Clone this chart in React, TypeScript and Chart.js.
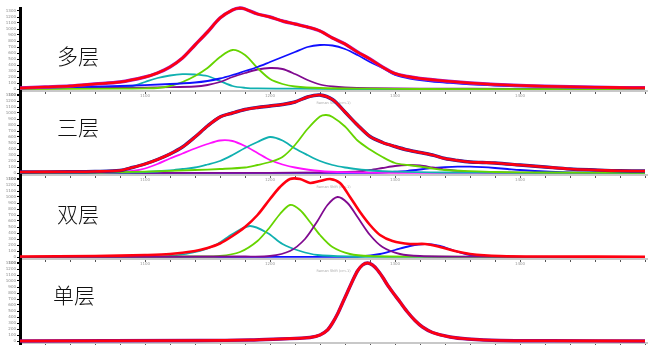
import React, { useEffect, useRef } from "react";
import { Chart, registerables } from "chart.js";

Chart.register(...registerables);

type Pt = [number, number];

// ---------- axis ticks / labels ----------
const xTicks = [1000, 1020, 1040, 1060, 1080, 1100, 1120, 1140, 1160, 1180, 1200, 1220, 1240, 1260, 1280, 1300, 1320, 1340, 1360, 1380, 1400, 1420, 1440, 1460, 1480, 1500];
const xLabelled = [1100, 1200, 1300, 1400];
const yTicks = [-6, 0, 6, 12, 18, 24, 30, 36, 42, 48, 54, 60, 66, 72, 78];
const layerNames = ["多层", "三层", "双层", "单层"];
const xAxisTitle = "Raman Shift (cm-1)";

// ---------- 多层 ----------
const multiRed: Pt[] = [[1000, 1], [1020, 2], [1040, 3], [1060, 5], [1080, 7], [1100, 12], [1110, 16], [1120, 22], [1130, 31], [1140, 44], [1150, 57], [1160, 71], [1170, 79], [1176, 81], [1180, 80], [1190, 75], [1200, 72], [1210, 68], [1220, 65], [1230, 62], [1240, 58], [1250, 51], [1260, 45], [1270, 37], [1280, 30], [1290, 22], [1300, 15.5], [1310, 12.5], [1320, 10.5], [1340, 8], [1360, 6], [1380, 4.5], [1400, 3.5], [1420, 2.8], [1440, 2.3], [1460, 1.8], [1480, 1.4], [1500, 1.2]];
const multiBlue: Pt[] = [[1000, 1], [1040, 2], [1080, 3], [1120, 5], [1140, 6.5], [1150, 8], [1160, 10.5], [1170, 14], [1180, 18], [1190, 22], [1200, 27], [1210, 32], [1220, 37], [1230, 42], [1240, 44], [1250, 43.5], [1260, 40], [1270, 34], [1280, 27], [1290, 21], [1300, 14], [1310, 11], [1320, 9], [1330, 7.5], [1340, 6.5], [1360, 4.7], [1380, 3.5], [1400, 2.6], [1440, 1.7], [1480, 1.1], [1500, 0.9]];
const multiGreen: Pt[] = [[1000, 0], [1080, 0.3], [1100, 0.7], [1110, 1], [1120, 3], [1130, 7], [1140, 13], [1150, 21], [1160, 32], [1170, 39], [1180, 34], [1190, 21], [1200, 10], [1210, 5], [1220, 2.5], [1240, 1], [1280, 0.3], [1320, 0], [1500, 0]];
const multiCyan: Pt[] = [[1000, 1], [1040, 1.2], [1080, 2], [1090, 3], [1100, 7], [1110, 11], [1120, 13.5], [1130, 14.8], [1140, 14.5], [1150, 13], [1160, 8], [1170, 3], [1180, 1.2], [1190, 0.6], [1220, 0.3], [1260, 0], [1500, 0]];
const multiPurple: Pt[] = [[1000, 0.8], [1080, 1.2], [1120, 1.8], [1140, 2.5], [1150, 4], [1160, 7], [1170, 12], [1180, 16], [1190, 19.5], [1200, 21], [1210, 20], [1220, 15], [1230, 9], [1240, 4.5], [1250, 2.5], [1260, 1.5], [1280, 0.8], [1320, 0.4], [1400, 0.2], [1500, 0]];

// ---------- 三层 ----------
const threeRed: Pt[] = [[1000, 1], [1040, 1.2], [1060, 1.5], [1080, 2.5], [1090, 5.5], [1100, 9], [1110, 13.5], [1120, 19], [1130, 26], [1140, 36], [1150, 47], [1160, 56], [1170, 60], [1180, 63.5], [1190, 65.5], [1200, 67], [1210, 68.5], [1220, 71], [1230, 76], [1240, 78], [1250, 73.5], [1260, 61], [1270, 48], [1280, 36.5], [1290, 30.5], [1300, 26.5], [1310, 23], [1320, 20.5], [1330, 18], [1340, 14.5], [1350, 12.5], [1360, 11], [1370, 10.5], [1380, 10], [1400, 8], [1420, 6], [1440, 4], [1460, 3], [1480, 2.2], [1500, 2]];
const threeMagenta: Pt[] = [[1000, 0.2], [1060, 0.5], [1080, 1], [1090, 2], [1100, 4.5], [1110, 9], [1120, 14.5], [1130, 19.5], [1140, 24.5], [1150, 29], [1160, 32.5], [1170, 32], [1180, 27], [1190, 20], [1200, 13], [1210, 8.5], [1220, 5.5], [1240, 2], [1260, 0.8], [1300, 0.2], [1500, 0]];
const threeCyan: Pt[] = [[1000, 0.2], [1080, 0.5], [1100, 1], [1120, 2.5], [1130, 4], [1140, 5.5], [1150, 8.5], [1160, 12], [1170, 18], [1180, 25], [1190, 31], [1200, 36], [1210, 32.5], [1220, 24.5], [1230, 18], [1240, 12], [1250, 8], [1260, 5.5], [1270, 3.8], [1280, 2.5], [1300, 1.3], [1340, 0.5], [1400, 0.2], [1500, 0]];
const threeGreen: Pt[] = [[1000, 0.2], [1060, 0.5], [1100, 1.3], [1140, 3], [1160, 4], [1180, 5.5], [1190, 8], [1200, 11], [1210, 16], [1220, 28], [1230, 44], [1240, 56.5], [1245, 58], [1250, 56], [1260, 46.5], [1270, 32.5], [1280, 23.5], [1290, 16], [1300, 10], [1310, 8], [1320, 6.5], [1330, 4.5], [1340, 3], [1360, 1.8], [1380, 1], [1420, 0.5], [1500, 0.2]];
const threePurple: Pt[] = [[1000, 0], [1200, 0.2], [1240, 0.5], [1260, 1], [1270, 1.5], [1280, 3], [1290, 5], [1300, 7], [1310, 8], [1320, 7.5], [1330, 5.5], [1340, 3.5], [1350, 2.2], [1360, 1.2], [1380, 0.5], [1420, 0.2], [1500, 0]];
const threeBlue: Pt[] = [[1000, 0], [1280, 0.2], [1290, 0.5], [1300, 1.3], [1310, 2.2], [1320, 3.5], [1330, 5], [1340, 5.8], [1350, 6.3], [1360, 6.3], [1370, 5.8], [1380, 5], [1390, 4], [1400, 3], [1420, 1.5], [1440, 0.7], [1460, 0.3], [1500, 0.1]];

// ---------- 双层 ----------
const doubleRed: Pt[] = [[1000, 0.5], [1060, 1], [1100, 2], [1120, 3], [1140, 6], [1150, 9], [1160, 13.5], [1170, 21], [1180, 30], [1190, 42], [1200, 58], [1208, 70], [1216, 78], [1224, 78], [1232, 74], [1240, 76], [1248, 78], [1256, 74], [1264, 60], [1272, 45], [1280, 32], [1288, 22], [1298, 16], [1312, 13], [1324, 13], [1336, 10], [1348, 6], [1360, 3], [1384, 1], [1420, 0.5], [1500, 0.3]];
const doubleCyan: Pt[] = [[1000, 0.2], [1100, 0.5], [1120, 1], [1144, 6], [1158, 13], [1170, 23], [1184, 31], [1198, 24], [1210, 13], [1224, 6], [1238, 2], [1264, 0.5], [1300, 0.2], [1500, 0]];
const doubleGreen: Pt[] = [[1000, 0.2], [1140, 0.5], [1160, 1], [1176, 5], [1190, 16], [1200, 30], [1208, 43], [1216, 52], [1224, 47], [1232, 35], [1240, 22], [1250, 10], [1264, 3], [1280, 1], [1320, 0.3], [1500, 0]];
const doublePurple: Pt[] = [[1000, 0.1], [1180, 0.5], [1200, 1], [1216, 6], [1228, 18], [1238, 36], [1246, 52], [1254, 60], [1262, 54], [1270, 40], [1280, 22], [1290, 10], [1304, 3], [1320, 1], [1360, 0.3], [1500, 0]];
const doubleBlue: Pt[] = [[1000, 0], [1260, 0.2], [1272, 0.5], [1288, 3], [1300, 7], [1312, 11], [1324, 13], [1336, 11], [1348, 6], [1360, 2], [1376, 0.5], [1400, 0.1], [1500, 0]];

// ---------- 单层 ----------
const singleRed: Pt[] = [[1000, 0], [1144, 0.5], [1184, 1], [1208, 2], [1224, 2.8], [1232, 3.5], [1240, 6], [1246, 11], [1250, 18], [1254, 27], [1258, 38], [1262, 49], [1266, 60], [1270, 70], [1274, 76], [1278, 78], [1282, 76], [1286, 71], [1290, 64], [1294, 56], [1298, 49], [1304, 39], [1310, 29], [1316, 20.5], [1322, 14], [1330, 8.5], [1344, 4], [1358, 2], [1384, 0.5], [1424, 0.2], [1500, 0]];

// ---------- styling ----------
const RED = "#ff0010";
const BLUE = "#1010ff";
const GREEN = "#66d400";
const CYAN = "#10b0b0";
const PURPLE = "#800a90";
const MAGENTA = "#ff10ff";

type Line = { data: Pt[]; color: string; width: number };
type PanelDef = {
  name: string;
  axisTop: number;
  baseline: number;
  axisBottom: number;
  labelLeft: number;
  labelTop: number;
  lines: Line[];
};

const panels: PanelDef[] = [
  {
    name: layerNames[0], axisTop: 8, baseline: 89, axisBottom: 97, labelLeft: 57, labelTop: 45,
    lines: [
      { data: multiRed, color: RED, width: 2.6 },
      { data: multiRed, color: "#a020d0", width: 3.4 },
      { data: multiBlue, color: BLUE, width: 1.8 },
      { data: multiGreen, color: GREEN, width: 1.8 },
      { data: multiPurple, color: PURPLE, width: 1.8 },
      { data: multiCyan, color: CYAN, width: 1.8 },
    ],
  },
  {
    name: layerNames[1], axisTop: 94, baseline: 173, axisBottom: 181, labelLeft: 57, labelTop: 116,
    lines: [
      { data: threeRed, color: RED, width: 2.6 },
      { data: threeRed, color: "#2020a0", width: 3.4 },
      { data: threeGreen, color: GREEN, width: 1.8 },
      { data: threeCyan, color: CYAN, width: 1.8 },
      { data: threeMagenta, color: MAGENTA, width: 1.8 },
      { data: threePurple, color: PURPLE, width: 1.8 },
      { data: threeBlue, color: BLUE, width: 1.8 },
    ],
  },
  {
    name: layerNames[2], axisTop: 178, baseline: 257, axisBottom: 265, labelLeft: 57, labelTop: 203,
    lines: [
      { data: doubleRed, color: RED, width: 2.6 },
      { data: doublePurple, color: PURPLE, width: 1.8 },
      { data: doubleGreen, color: GREEN, width: 1.8 },
      { data: doubleCyan, color: CYAN, width: 1.8 },
      { data: doubleBlue, color: BLUE, width: 1.8 },
    ],
  },
  {
    name: layerNames[3], axisTop: 262, baseline: 341, axisBottom: 349, labelLeft: 53, labelTop: 284,
    lines: [
      { data: singleRed, color: RED, width: 2.6 },
      { data: singleRed, color: PURPLE, width: 3.4 },
    ],
  },
];

const WIDTH = 656;
const PLOT_RIGHT = 647;

function Panel({ p }: { p: PanelDef }) {
  const ref = useRef<HTMLCanvasElement>(null);
  const canvasTop = p.axisTop - 4;
  const canvasHeight = p.baseline + 20 - canvasTop;

  useEffect(() => {
    const canvas = ref.current;
    if (!canvas) return;
    const chart = new Chart(canvas, {
      type: "line",
      data: {
        datasets: p.lines.map((l) => ({
          data: l.data.map(([x, y]) => ({ x, y })),
          borderColor: l.color,
          borderWidth: l.width,
          pointRadius: 0,
          fill: false,
          tension: 0.3,
          clip: 6,
        })),
      },
      options: {
        responsive: false,
        animation: false,
        events: [],
        devicePixelRatio: 1,
        layout: {
          padding: {
            top: 4,
            left: 0,
            right: WIDTH - PLOT_RIGHT,
            bottom: canvasHeight - (p.axisBottom - canvasTop),
          },
        },
        plugins: { legend: { display: false }, tooltip: { enabled: false } },
        scales: {
          x: {
            type: "linear",
            min: 1000,
            max: 1501.6,
            position: { y: -2 } as any,
            border: { display: true, color: "#c8c8c8", width: 2 },
            grid: { display: true, drawOnChartArea: false, drawTicks: true, tickLength: 2, color: "#555", lineWidth: 1 },
            ticks: {
              autoSkip: false,
              maxRotation: 0,
              padding: 1,
              font: { size: 4, family: "DejaVu Sans" },
              color: "#999",
              callback: (v: any) => (xLabelled.includes(Number(v)) ? String(v) : ""),
            },
            afterBuildTicks: (s: any) => {
              s.ticks = xTicks.map((value) => ({ value }));
            },
            afterFit: (s: any) => {
              s.paddingLeft = 0;
              s.paddingRight = 0;
              s.paddingTop = 0;
              s.paddingBottom = 0;
            },
            title: {
              display: true,
              text: xAxisTitle,
              color: "#aaa",
              font: { size: 3.5, family: "DejaVu Sans" },
              padding: { top: 1, bottom: 0 },
            },
          },
          y: {
            type: "linear",
            position: "left",
            min: -(p.axisBottom - p.baseline),
            max: p.baseline - p.axisTop,
            border: { display: true, color: "#000", width: 3 },
            grid: { display: true, drawOnChartArea: false, drawTicks: true, tickLength: 3, color: "#000", lineWidth: 1 },
            ticks: {
              autoSkip: false,
              padding: 1,
              font: { size: 4, family: "DejaVu Sans" },
              color: "#888",
              callback: (v: any) => String(Math.round((Number(v) * 100) / 6)),
            },
            afterBuildTicks: (s: any) => {
              s.ticks = yTicks.filter((t) => t <= s.max && t >= s.min).map((value) => ({ value }));
            },
            afterFit: (s: any) => {
              s.width = 20;
              s.paddingLeft = 0;
              s.paddingRight = 0;
              s.paddingTop = 0;
              s.paddingBottom = 0;
            },
          },
        },
      },
    });
    return () => chart.destroy();
  }, []);

  return (
    <>
      <canvas
        ref={ref}
        width={WIDTH}
        height={canvasHeight}
        style={{ position: "absolute", left: 0, top: canvasTop, width: WIDTH, height: canvasHeight }}
      />
      <div
        style={{
          position: "absolute",
          left: p.labelLeft,
          top: p.labelTop,
          fontFamily: '"Noto Sans CJK SC", sans-serif',
          fontSize: 21,
          lineHeight: "21px",
          fontWeight: 300,
          color: "#111",
          whiteSpace: "nowrap",
        }}
      >
        {p.name}
      </div>
    </>
  );
}

export default function App() {
  return (
    <div
      style={{
        position: "absolute",
        left: 0,
        top: 0,
        width: WIDTH,
        height: 345,
        background: "#fff",
        overflow: "hidden",
      }}
    >
      {panels.map((p, i) => (
        <Panel key={i} p={p} />
      ))}
    </div>
  );
}
